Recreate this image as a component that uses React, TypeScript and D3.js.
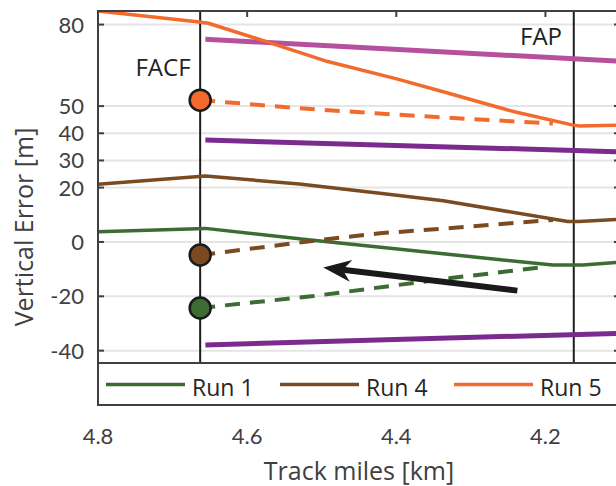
import React from 'react';
import * as d3 from 'd3';

// track positions [km] and vertical error [m]
const run1Track = [4.8, 4.656, 4.515, 4.19, 4.15, 4.1];
const run1Err = [3.8, 5.0, 0.7, -8.5, -8.5, -7.4];
const run4Track = [4.8, 4.656, 4.53, 4.422, 4.337, 4.17, 4.155, 4.1];
const run4Err = [21.2, 24.3, 21.3, 17.9, 15.2, 7.5, 7.5, 8.4];
const run5Track = [4.8, 4.67, 4.652, 4.567, 4.492, 4.402, 4.337, 4.243, 4.163, 4.154, 4.1];
const run5Err = [85, 81.1, 80.5, 73.1, 66.4, 60.2, 55.3, 48.0, 43.0, 42.7, 43.0];

// dashed extrapolations from FACF
const run1DashTrack = [4.663, 4.511, 4.327, 4.205];
const run1DashErr = [-24.3, -19.9, -13.3, -9.3];
const run4DashTrack = [4.663, 4.485, 4.422, 4.337, 4.19];
const run4DashErr = [-4.8, 1.3, 3.2, 4.9, 8.1];
const run5DashTrack = [4.663, 4.515, 4.402, 4.337, 4.19];
const run5DashErr = [52.2, 48.9, 46.9, 45.8, 43.6];

// bound lines
const boundTrack = [4.656, 4.1];
const upperBound = [74.6, 66.5];
const midBound = [37.5, 33.2];
const lowerBound = [-37.9, -33.6];

const xTicks = [4.8, 4.6, 4.4, 4.2];
const yTicks = [-40, -20, 0, 20, 30, 40, 50, 80];
const facf = 4.663;
const fap = 4.162;
const arrowFrom = [4.2376, -17.9];
const arrowTo = [4.498, -9.4];

const runNames = ['Run 1', 'Run 4', 'Run 5'];
const runColors = ['#3c6b34', '#7a4b21', '#f26a2c'];

const W = 616;
const H = 486;
const left = 98, right = 620, top = 11, bottom = 405;
const legendTop = 363;
const font = '"Open Sans", sans-serif';
const tickFont = 'Lato, sans-serif';
const axisColor = '#404040';

export default function App() {
  const x = d3.scaleLinear().domain([4.8, 4.1]).range([left, right]);
  const y = d3.scaleLinear().domain([-60, 85]).range([bottom, top]);
  const line = (xs: number[], ys: number[]) =>
    d3.line<number>().x((d, i) => x(xs[i])).y((d) => y(d))(ys) || '';

  const solid = [
    [run1Track, run1Err],
    [run4Track, run4Err],
    [run5Track, run5Err],
  ];
  const dashed = [
    [run1DashTrack, run1DashErr],
    [run4DashTrack, run4DashErr],
    [run5DashTrack, run5DashErr],
  ];

  // arrow geometry
  const ax0 = x(arrowFrom[0]), ay0 = y(arrowFrom[1]);
  const ax1 = x(arrowTo[0]), ay1 = y(arrowTo[1]);
  const ang = Math.atan2(ay1 - ay0, ax1 - ax0);
  const headLen = 28, headW = 11;
  const bx = ax1 - Math.cos(ang) * headLen, by = ay1 - Math.sin(ang) * headLen;
  const nx = -Math.sin(ang), ny = Math.cos(ang);
  const backX = ax1 - Math.cos(ang) * headLen * 0.7, backY = ay1 - Math.sin(ang) * headLen * 0.7;
  const head = `M${ax1},${ay1} L${bx + nx * headW},${by + ny * headW} L${backX},${backY} L${bx - nx * headW},${by - ny * headW} Z`;

  const legendItems = [106, 280, 454];

  return (
    <svg width={W} height={H} style={{ position: 'absolute', left: 0, top: 0, background: '#fff' }}>
      <defs>
        <clipPath id="plot">
          <rect x={left} y={top} width={right - left} height={bottom - top} />
        </clipPath>
      </defs>
      <rect x={0} y={0} width={W} height={H} fill="#fff" />
      {yTicks.map((t) => (
        <line key={t} x1={left} x2={right} y1={y(t)} y2={y(t)} stroke="#e5e5e5" strokeWidth={2} />
      ))}
      <g clipPath="url(#plot)">
        {[facf, fap].map((v) => (
          <line key={v} x1={x(v)} x2={x(v)} y1={top} y2={bottom} stroke="#1e1e1e" strokeWidth={2} />
        ))}
        <path d={line(boundTrack, upperBound)} stroke="#b54f9e" strokeWidth={5} fill="none" />
        <path d={line(boundTrack, midBound)} stroke="#7b2a8d" strokeWidth={5} fill="none" />
        <path d={line(boundTrack, lowerBound)} stroke="#7b2a8d" strokeWidth={5} fill="none" />
        {solid.map(([xs, ys], i) => (
          <path key={'s' + i} d={line(xs, ys)} stroke={runColors[i]} strokeWidth={3.5} fill="none" strokeLinejoin="round" />
        ))}
        {dashed.map(([xs, ys], i) => (
          <path key={'d' + i} d={line(xs, ys)} stroke={runColors[i]} strokeWidth={4} fill="none" strokeDasharray="15,10" />
        ))}
        {dashed.map(([xs, ys], i) => (
          <circle key={'c' + i} cx={x(xs[0])} cy={y(ys[0])} r={10.5} fill={runColors[i]} stroke="#1a1a1a" strokeWidth={2.5} />
        ))}
        <line x1={ax0} y1={ay0} x2={backX} y2={backY} stroke="#1a1a1a" strokeWidth={6} />
        <path d={head} fill="#1a1a1a" />
      </g>
      <text x={163} y={76} textAnchor="middle" fontFamily={font} fontSize={24} fill="#222">FACF</text>
      <text x={562} y={45} textAnchor="end" fontFamily={font} fontSize={24} fill="#222">FAP</text>

      {/* axes box and ticks */}
      <rect x={left} y={top} width={right - left} height={bottom - top} fill="none" stroke={axisColor} strokeWidth={2} />
      {yTicks.map((t) => (
        <g key={'yt' + t}>
          <line x1={left} x2={left + 6} y1={y(t)} y2={y(t)} stroke={axisColor} strokeWidth={2} />
          <line x1={right - 6} x2={right} y1={y(t)} y2={y(t)} stroke={axisColor} strokeWidth={2} />
          <text x={left - 14} y={y(t)} dy="0.36em" textAnchor="end" fontFamily={tickFont} fontSize={22} fill={axisColor}>
            {t}
          </text>
        </g>
      ))}
      {xTicks.map((t) => (
        <g key={'xt' + t}>
          <line x1={x(t)} x2={x(t)} y1={top} y2={top + 6} stroke={axisColor} strokeWidth={2} />
          <text x={x(t)} y={444} textAnchor="middle" fontFamily={tickFont} fontSize={22} fill={axisColor}>
            {t.toFixed(1)}
          </text>
        </g>
      ))}

      {/* legend */}
      <rect x={left} y={legendTop} width={right - left + 10} height={bottom - legendTop} fill="#fff" stroke={axisColor} strokeWidth={2} />
      {runNames.map((n, i) => (
        <g key={n}>
          <line x1={legendItems[i]} x2={legendItems[i] + 79} y1={384.5} y2={384.5} stroke={runColors[i]} strokeWidth={3.5} />
          <text x={legendItems[i] + 86} y={396} fontFamily={font} fontSize={23} fill="#262626">{n}</text>
        </g>
      ))}

      <text x={(left + right) / 2} y={480} textAnchor="middle" fontFamily={font} fontSize={25} fill={axisColor}>
        Track miles [km]
      </text>
      <text transform={`translate(33,227) rotate(-90)`} textAnchor="middle" fontFamily={font} fontSize={25} fill={axisColor}>
        Vertical Error [m]
      </text>
    </svg>
  );
}
